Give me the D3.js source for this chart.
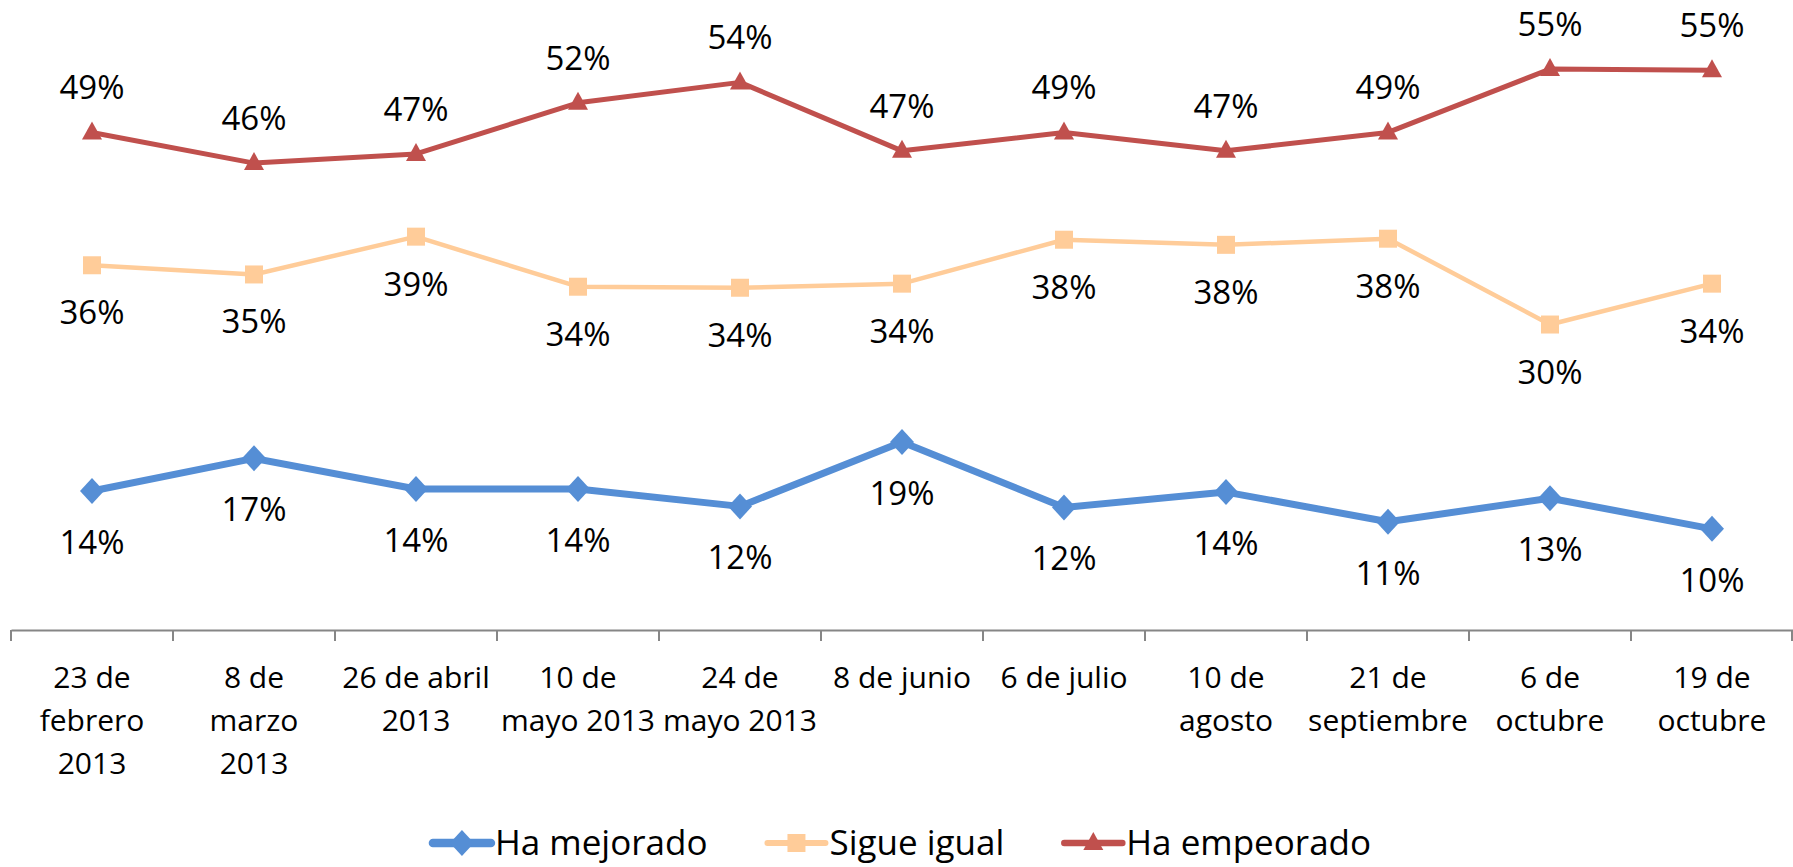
<!DOCTYPE html>
<meta charset="utf-8">
<head>
    <script src="https://d3js.org/d3.v7.min.js"></script>
</head>
<style>
    body { margin: 0; background: white; }
    text { font-family: 'Open Sans', sans-serif; fill: black; }
    .data-label { font-size: 33px; }
    .tick-label { font-size: 30px; }
    .legend-label { font-size: 35px; }
</style>
<div id="my_dataviz"></div>
<script>

    // categories (tick labels, line breaks as in the original)
    var fechas = ["23 de\nfebrero\n2013", "8 de\nmarzo\n2013", "26 de abril\n2013", "10 de\nmayo 2013",
        "24 de\nmayo 2013", "8 de junio", "6 de julio", "10 de\nagosto", "21 de\nseptiembre",
        "6 de\noctubre", "19 de\noctubre"];

    // series values and their printed labels
    var mejorado = [13.6, 16.8, 13.8, 13.8, 12.1, 18.4, 12.0, 13.5, 10.6, 12.9, 9.9];
    var mejoradoLbl = [14, 17, 14, 14, 12, 19, 12, 14, 11, 13, 10];
    var igual = [35.7, 34.8, 38.5, 33.6, 33.5, 33.9, 38.2, 37.7, 38.3, 29.9, 33.9];
    var igualLbl = [36, 35, 39, 34, 34, 34, 38, 38, 38, 30, 34];
    var empeorado = [48.7, 45.7, 46.6, 51.6, 53.6, 46.9, 48.7, 46.9, 48.7, 54.9, 54.8];
    var empeoradoLbl = [49, 46, 47, 52, 54, 47, 49, 47, 49, 55, 55];

    var width = 1793, height = 867;

    var svg = d3.select("#my_dataviz")
        .append("svg")
        .attr("width", width)
        .attr("height", height);

    // scales
    var x = d3.scaleBand()
        .domain(fechas)
        .range([11, 1793]);
    var y = d3.scaleLinear()
        .domain([0, 60])
        .range([630, 17]);
    var cx = function(i) { return x(fechas[i]) + x.bandwidth() / 2; };

    // X axis
    var axis = svg.append("g")
        .attr("transform", "translate(0,630)")
        .call(d3.axisBottom(x).tickSize(0).tickFormat(""));
    axis.select(".domain").attr("stroke", "#868686").attr("stroke-width", 2);
    axis.selectAll(".sep")
        .data(d3.range(fechas.length + 1))
        .enter().append("line")
        .attr("x1", function(i) { return i < fechas.length ? x(fechas[i]) : x.range()[1] - 1; })
        .attr("x2", function(i) { return i < fechas.length ? x(fechas[i]) : x.range()[1] - 1; })
        .attr("y1", 0).attr("y2", 11)
        .attr("stroke", "#868686").attr("stroke-width", 2);

    // tick labels
    fechas.forEach(function(f, i) {
        var t = svg.append("text")
            .attr("class", "tick-label")
            .attr("text-anchor", "middle")
            .attr("x", cx(i))
            .attr("y", 688);
        f.split("\n").forEach(function(line, k) {
            t.append("tspan")
                .attr("x", cx(i))
                .attr("dy", k == 0 ? 0 : 43)
                .text(line);
        });
    });

    var series = [
        {name: "Ha mejorado", values: mejorado, labels: mejoradoLbl, color: "#558ED5", width: 7, marker: "diamond", dy: 63},
        {name: "Sigue igual", values: igual, labels: igualLbl, color: "#FFCC99", width: 4.5, marker: "square", dy: 59},
        {name: "Ha empeorado", values: empeorado, labels: empeoradoLbl, color: "#C0504D", width: 5, marker: "triangle", dy: -33}
    ];

    var markerPath = function(type, px, py) {
        if (type == "diamond") {
            return "M" + px + "," + (py - 13) + "L" + (px + 12) + "," + py + "L" + px + "," + (py + 13) + "L" + (px - 12) + "," + py + "Z";
        }
        if (type == "square") {
            return "M" + (px - 9) + "," + (py - 9) + "h18v18h-18Z";
        }
        return "M" + px + "," + (py - 11) + "L" + (px + 10) + "," + (py + 7) + "L" + (px - 10) + "," + (py + 7) + "Z";
    };

    var line = d3.line()
        .x(function(d, i) { return cx(i); })
        .y(function(d) { return y(d); });

    series.forEach(function(s) {
        svg.append("path")
            .datum(s.values)
            .attr("fill", "none")
            .attr("stroke", s.color)
            .attr("stroke-width", s.width)
            .attr("stroke-linejoin", "round")
            .attr("d", line);

        svg.append("g")
            .selectAll("path")
            .data(s.values)
            .enter()
            .append("path")
            .attr("fill", s.color)
            .attr("d", function(d, i) { return markerPath(s.marker, cx(i), y(d)); });

        svg.append("g")
            .selectAll("text")
            .data(s.values)
            .enter()
            .append("text")
            .attr("class", "data-label")
            .attr("text-anchor", "middle")
            .attr("x", function(d, i) { return cx(i); })
            .attr("y", function(d) { return y(d) + s.dy; })
            .text(function(d, i) { return s.labels[i] + "%"; });
    });

    // legend, centred under the plot
    var legend = svg.append("g");
    var lx = 0;
    series.forEach(function(s, k) {
        var item = legend.append("g").attr("transform", "translate(" + lx + ",0)");
        item.append("line")
            .attr("x1", 0).attr("x2", 58)
            .attr("y1", 0).attr("y2", 0)
            .attr("stroke", s.color)
            .attr("stroke-width", s.width + 1.5)
            .attr("stroke-linecap", "round");
        item.append("path")
            .attr("fill", s.color)
            .attr("d", markerPath(s.marker, 29, 0));
        var t = item.append("text")
            .attr("class", "legend-label")
            .attr("x", 62)
            .attr("y", 12)
            .text(s.name);
        lx += 62 + t.node().getComputedTextLength() + 60;
    });
    lx -= 60;
    legend.attr("transform", "translate(" + (902 - lx / 2) + ",843)");

</script>
